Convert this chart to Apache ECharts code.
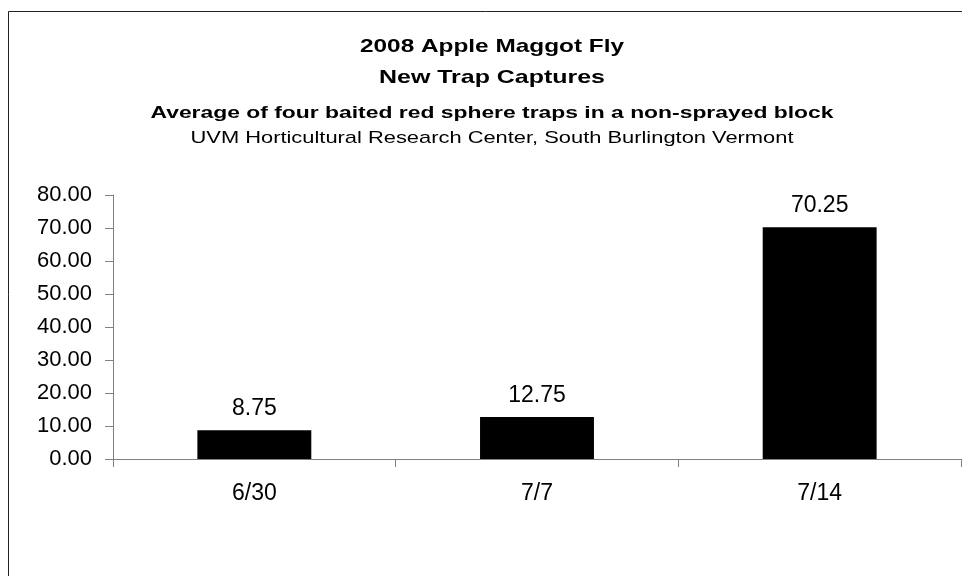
<!DOCTYPE html>
<html><head><meta charset="utf-8">
<script src="https://cdn.jsdelivr.net/npm/echarts@6/dist/echarts.min.js"></script>
<style>html,body{margin:0;padding:0;background:#fff}#c{width:962px;height:576px}</style>
</head><body><div id="c"></div>
<script>
const categories = ['6/30', '7/7', '7/14'];
const captures = [8.75, 12.75, 70.25];
const yTicks = { min: 0, max: 80, interval: 10 };
const titleLines = ['2008 Apple Maggot Fly', 'New Trap Captures'];
const subtitleBold = 'Average of four baited red sphere traps in a non-sprayed block';
const subtitleNormal = 'UVM Horticultural Research Center, South Burlington Vermont';

const F = '"Liberation Sans", Arial, sans-serif';
const mctx = document.createElement('canvas').getContext('2d');
function fitScale(text, font, targetW) {
  mctx.font = font;
  return targetW / mctx.measureText(text).width;
}
function stretchedText(text, font, y, targetW) {
  const s = fitScale(text, font, targetW);
  return { type: 'text', x: 492, y: y, scaleX: s, silent: true,
    style: { text: text, font: font, fill: '#000', align: 'center', verticalAlign: 'middle' } };
}

const chart = echarts.init(document.getElementById('c'), null, { renderer: 'canvas' });
chart.setOption({
  animation: false,
  backgroundColor: '#fff',
  graphic: [
    { type: 'rect', shape: { x: 8.5, y: 11.5, width: 1200, height: 1200 }, style: { fill: 'none', stroke: '#222', lineWidth: 1 }, silent: true },
    stretchedText(titleLines[0], 'bold 19px ' + F, 47, 264),
    stretchedText(titleLines[1], 'bold 19px ' + F, 77.5, 226),
    stretchedText(subtitleBold, 'bold 17px ' + F, 113, 683),
    stretchedText(subtitleNormal, '17px ' + F, 138.5, 603)
  ],
  grid: { left: 113, right: 1, top: 195, bottom: 117, containLabel: false },
  xAxis: {
    type: 'category',
    data: categories,
    boundaryGap: true,
    axisLine: { lineStyle: { color: '#808080', width: 1 } },
    axisTick: { show: true, alignWithLabel: false, length: 8, inside: false, lineStyle: { color: '#808080' } },
    axisLabel: { color: '#000', fontFamily: F, fontSize: 23, margin: 23 },
    splitLine: { show: false }
  },
  yAxis: {
    type: 'value',
    min: yTicks.min, max: yTicks.max, interval: yTicks.interval,
    axisLine: { show: true, lineStyle: { color: '#808080', width: 1 } },
    axisTick: { show: true, length: 8, lineStyle: { color: '#808080' } },
    axisLabel: { color: '#000', fontFamily: F, fontSize: 22, margin: 21, formatter: v => v.toFixed(2) },
    splitLine: { show: false }
  },
  series: [{
    type: 'bar',
    data: captures,
    barWidth: '40.3%',
    itemStyle: { color: '#000' },
    label: { show: true, position: 'top', distance: 10, color: '#000', fontFamily: F, fontSize: 23, formatter: p => p.value.toFixed(2) }
  }]
});
</script></body></html>
